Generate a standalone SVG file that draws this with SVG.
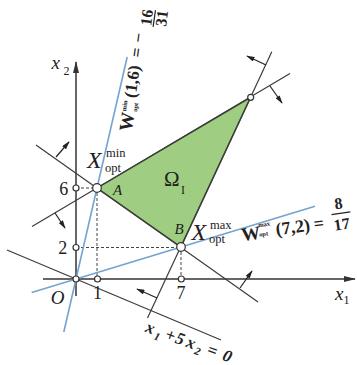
<svg xmlns="http://www.w3.org/2000/svg" width="357" height="365" viewBox="0 0 357 365">
<style>
text{font-family:"Liberation Serif","Times New Roman",serif;fill:#222}
.ln{stroke:#3c3c3c;stroke-width:1.2;fill:none}
.ax{stroke:#333;stroke-width:1.5;fill:none}
.bl{stroke:#74a3cf;stroke-width:1.6;fill:none}
.ds{stroke:#444;stroke-width:1;stroke-dasharray:3 2;fill:none}
.ar{stroke:#222;stroke-width:1.2;fill:none;marker-end:url(#ah)}
.pt{fill:#fff;stroke:#333;stroke-width:1.2}
.n{font-size:18px;text-anchor:middle}
.it{font-style:italic}
.b{font-weight:bold}
.m{text-anchor:middle}
</style>
<defs>
<marker id="ah" viewBox="0 0 10 6" refX="9" refY="3" markerWidth="9" markerHeight="5" orient="auto" markerUnits="userSpaceOnUse"><path d="M0,0 L10,3 L0,6 z" fill="#222"/></marker>
<marker id="axh" viewBox="0 0 12 6" refX="11" refY="3" markerWidth="12" markerHeight="6" orient="auto" markerUnits="userSpaceOnUse"><path d="M0,0 L12,3 L0,6 z" fill="#333"/></marker>
</defs>

<g id="region">
<polygon points="97,188 250.7,97.3 181,247" fill="#9fce82" stroke="#3c4a36" stroke-width="1.4"/>
<text x="171.7" y="186" font-size="21" class="m">Ω</text>
<text x="183" y="193.5" font-size="12" class="m">I</text>
</g>

<g id="connectors">
<line class="ax" x1="43" y1="279" x2="355" y2="279" marker-end="url(#axh)"/>
<line class="ax" x1="76" y1="296" x2="76" y2="62" marker-end="url(#axh)"/>
<line class="ds" x1="76" y1="188" x2="97" y2="188"/>
<line class="ds" x1="97" y1="188" x2="97" y2="279"/>
<line class="ds" x1="76" y1="247.5" x2="181" y2="247.5"/>
<line class="ds" x1="181" y1="247" x2="181" y2="279"/>
<line class="ln" x1="36" y1="145" x2="258" y2="302"/>
<line class="ln" x1="32" y1="226.5" x2="290" y2="73.5"/>
<line class="ln" x1="271.8" y1="51.7" x2="147.5" y2="318"/>
<line class="ln" x1="7" y1="250" x2="221" y2="340"/>
<line class="bl" x1="63.8" y1="332" x2="127.2" y2="57"/>
<line class="bl" x1="31.7" y1="292.5" x2="315" y2="206.2"/>
<line class="ar" x1="56" y1="157" x2="69" y2="142"/>
<line class="ar" x1="240" y1="288" x2="252" y2="271"/>
<line class="ar" x1="55" y1="213" x2="65" y2="228"/>
<line class="ar" x1="270" y1="86" x2="282" y2="103"/>
<line class="ar" x1="266" y1="65" x2="247" y2="56"/>
<line class="ar" x1="157" y1="298" x2="137" y2="289"/>
</g>

<g id="axis-labels">
<text x="51.5" y="68.5" font-size="19" class="it">x</text>
<text x="63.5" y="74.5" font-size="12">2</text>
<text x="335" y="300" font-size="19" class="it">x</text>
<text x="343.5" y="304" font-size="12">1</text>
<text x="57.5" y="303.5" font-size="19" class="it m">O</text>
<text x="97.5" y="299" class="n">1</text>
<text x="181" y="299" class="n">7</text>
<text x="62.8" y="254" class="n">2</text>
<text x="63.8" y="194.5" class="n">6</text>
</g>

<g id="point-O"><circle class="pt" cx="76" cy="279" r="3"/></g>
<g id="tick-1"><circle class="pt" cx="97.5" cy="279" r="3"/></g>
<g id="tick-7"><circle class="pt" cx="181.3" cy="279" r="3"/></g>
<g id="tick-2"><circle class="pt" cx="76" cy="247.5" r="3"/></g>
<g id="tick-6"><circle class="pt" cx="76" cy="188" r="3"/></g>
<g id="point-C"><circle class="pt" cx="250.7" cy="97.3" r="3"/></g>

<g id="point-A">
<circle class="pt" cx="97" cy="188" r="4.3"/>
<text x="117.7" y="195" font-size="15" class="it m">A</text>
<text x="87" y="168" font-size="24" class="it">X</text>
<text x="106" y="156.5" font-size="12.5">min</text>
<text x="105" y="172" font-size="12.5">opt</text>
</g>

<g id="point-B">
<circle class="pt" cx="181" cy="247" r="4.3"/>
<text x="179" y="233.5" font-size="15" class="it m">B</text>
<text x="191.5" y="240" font-size="24" class="it">X</text>
<text x="210" y="229" font-size="12.5">max</text>
<text x="209" y="243" font-size="12.5">opt</text>
</g>

<g id="label-wmin" transform="translate(133.3,81.7) rotate(-82)" class="b">
<text x="-40.5" y="5.5" font-size="19" class="m">W</text>
<text x="-25" y="-3" font-size="6.5" class="m">min</text>
<text x="-25" y="8" font-size="6.5" class="m">opt</text>
<text x="0" y="4.5" font-size="17" class="m">(1,6)</text>
<text x="29.4" y="4.5" font-size="17" class="m">=</text>
<text x="44.2" y="4.5" font-size="17" class="m">−</text>
<text x="65.4" y="9.8" font-size="16" class="m">16</text>
<line x1="57" y1="12" x2="74" y2="12" stroke="#222" stroke-width="1.2"/>
<text x="66.7" y="24.7" font-size="16" class="m">31</text>
</g>

<g id="label-wmax" transform="translate(293,228) rotate(-8)" class="b">
<text x="-42.5" y="6" font-size="19" class="m">W</text>
<text x="-28.2" y="-5.5" font-size="6.5" class="m">max</text>
<text x="-30" y="4" font-size="6.5" class="m">opt</text>
<text x="0" y="5" font-size="18" class="m">(7,2)</text>
<text x="26.2" y="5" font-size="18" class="m">=</text>
<text x="48.5" y="-12.7" font-size="16" class="m">8</text>
<line x1="40" y1="-7.9" x2="59" y2="-7.9" stroke="#222" stroke-width="1.2"/>
<text x="48.8" y="8.4" font-size="16" class="m">17</text>
</g>

<g id="label-line" transform="translate(144.7,331.7) rotate(20)" class="b it">
<text x="4" y="0" font-size="17" class="m">x</text>
<text x="13.4" y="4" font-size="11" class="m">1</text>
<text x="25.3" y="0" font-size="17" class="m">+</text>
<text x="35.6" y="0" font-size="17" class="m">5</text>
<text x="47.5" y="0" font-size="17" class="m">x</text>
<text x="56.5" y="4" font-size="11" class="m">2</text>
<text x="70" y="0" font-size="17" class="m">=</text>
<text x="86" y="0" font-size="17" class="m">0</text>
</g>
</svg>
